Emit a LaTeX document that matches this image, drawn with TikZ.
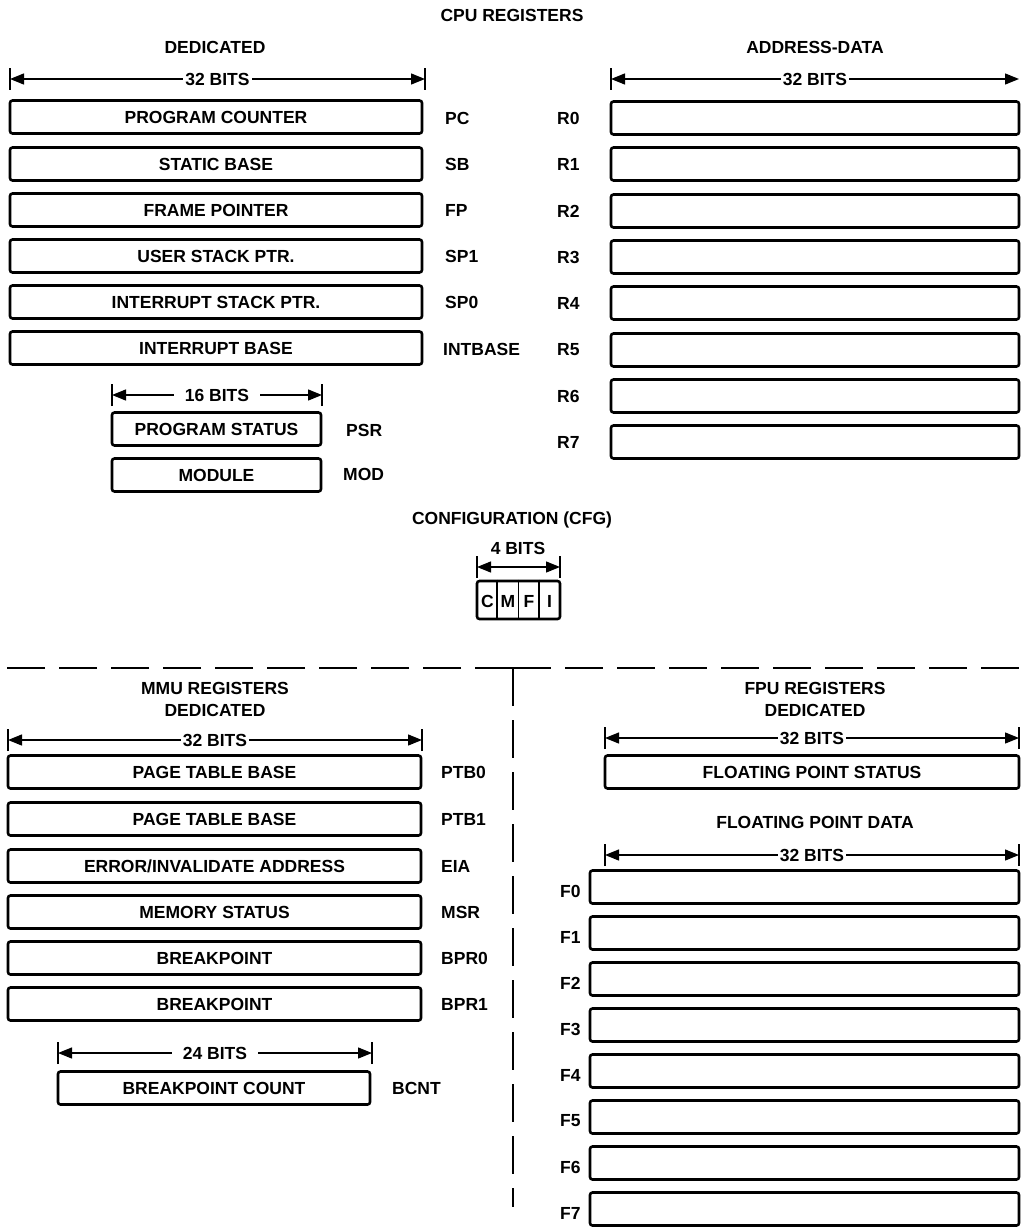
\documentclass[tikz,border=0pt]{standalone}
\usepackage{fontspec}
\setmainfont{Liberation Sans}
\usetikzlibrary{arrows.meta}
\newcommand\Reg[5]{\node[reg, minimum width={#3-#2}] (#1) at ({(#2+#3)/2},#4) {#5};}
\newcommand\Dim[6]{%
  \coordinate (#1a) at (#2,#4); \coordinate (#1b) at (#3,#4);
  \draw[dimline] (#1a) -- (#1b) node[midway, dimtxt, inner xsep=#6] {#5};
  \draw[dimbar] ([yshift=-11pt]#1a) -- ([yshift=11pt]#1a);
  \draw[dimbar] ([yshift=-11pt]#1b) -- ([yshift=11pt]#1b);}
\begin{document}
\begin{tikzpicture}[x=1pt,y=-1pt,
  every node/.style={font=\fontsize{17.5}{19}\selectfont\bfseries, inner sep=0pt},
  reg/.style={draw, line width=2.6pt, rounded corners=2.5pt, minimum height=33pt},
  lbl/.style={anchor=west},
  dimline/.style={line width=1.3pt, {Triangle[length=14pt,width=11pt]}-{Triangle[length=14pt,width=11pt]}},
  dimbar/.style={line width=1.8pt},
  dimtxt/.style={fill=white, inner ysep=2pt},
  sep/.style={line width=2pt, dash pattern=on 38pt off 14pt}
]
\useasboundingbox (0,0) rectangle (1021,1228);

% ---------- CPU ----------
\node (cputitle) at (512,15) {CPU REGISTERS};
\node (cpuded) at (215,47) {DEDICATED};
\node (cpuad) at (815,47) {ADDRESS-DATA};

\Dim{dA}{10}{425}{79}{32 BITS}{2pt}
\coordinate (dBa) at (611,79); \coordinate (dBb) at (1019,79);
\draw[dimline] (dBa) -- (dBb) node[midway, dimtxt, inner xsep=2pt] {32 BITS};
\draw[dimbar] ([yshift=-11pt]dBa) -- ([yshift=11pt]dBa);

\Reg{pc}{10}{422}{117}{PROGRAM COUNTER}
\Reg{sb}{10}{422}{164}{STATIC BASE}
\Reg{fp}{10}{422}{210}{FRAME POINTER}
\Reg{usp}{10}{422}{256}{USER STACK PTR.}
\Reg{isp}{10}{422}{302}{INTERRUPT STACK PTR.}
\Reg{ib}{10}{422}{348}{INTERRUPT BASE}
\node[lbl] (lpc) at (445,118) {PC};
\node[lbl] (lsb) at (445,164) {SB};
\node[lbl] (lfp) at (445,210) {FP};
\node[lbl] (lsp1) at (445,256) {SP1};
\node[lbl] (lsp0) at (445,302) {SP0};
\node[lbl] (lib) at (443,349) {INTBASE};

\foreach \i/\y in {0/118,1/164,2/211,3/257,4/303,5/350,6/396,7/442}{
  \Reg{r\i}{611}{1019}{\y}{}
  \node[lbl] (lr\i) at (557,\y) {R\i};
}

\Dim{dC}{112}{322}{395}{16 BITS}{11pt}
\Reg{psr}{112}{321}{429}{PROGRAM STATUS}
\Reg{mod}{112}{321}{475}{MODULE}
\node[lbl] (lpsr) at (346,430) {PSR};
\node[lbl] (lmod) at (343,474) {MOD};

% ---------- CFG ----------
\node (cfgtitle) at (512,520) {CONFIGURATION (CFG)};
\node (cfgbits) at (518,548) {4 BITS};
\coordinate (dDa) at (477,567); \coordinate (dDb) at (560,567);
\draw[dimline] (dDa) -- (dDb);
\draw[dimbar] ([yshift=-11pt]dDa) -- ([yshift=11pt]dDa);
\draw[dimbar] ([yshift=-11pt]dDb) -- ([yshift=11pt]dDb);
\node[reg, minimum width=83, minimum height=38] (cfg) at (518.5,600) {};
\draw[line width=1.8pt] ([xshift=-21.5pt]cfg.north) -- ([xshift=-21.5pt]cfg.south);
\draw[line width=1.8pt] (cfg.north) -- (cfg.south);
\draw[line width=1.8pt] ([xshift=20.5pt]cfg.north) -- ([xshift=20.5pt]cfg.south);
\node (cC) at (487.5,601) {C};
\node (cM) at (508,601) {M};
\node (cF) at (529,601) {F};
\node (cI) at (549.5,601) {I};

% ---------- separators ----------
\coordinate (corner) at (513,668);
\coordinate (sepL) at (0,668);
\coordinate (sepR) at (1021,668);
\coordinate (sepB) at (513,1207);
\draw[sep] (corner) -- (sepL);
\draw[sep] (corner) -- (sepR);
\draw[sep] (corner) -- (sepB);

% ---------- MMU ----------
\node (mmut) at (215,688) {MMU REGISTERS};
\node (mmud) at (215,710) {DEDICATED};
\Dim{dE}{8}{422}{740}{32 BITS}{2pt}
\Reg{ptb0}{8}{421}{772}{PAGE TABLE BASE}
\Reg{ptb1}{8}{421}{819}{PAGE TABLE BASE}
\Reg{eia}{8}{421}{866}{ERROR/INVALIDATE ADDRESS}
\Reg{msr}{8}{421}{912}{MEMORY STATUS}
\Reg{bpr0}{8}{421}{958}{BREAKPOINT}
\Reg{bpr1}{8}{421}{1004}{BREAKPOINT}
\node[lbl] (lptb0) at (441,772) {PTB0};
\node[lbl] (lptb1) at (441,819) {PTB1};
\node[lbl] (leia) at (441,866) {EIA};
\node[lbl] (lmsr) at (441,912) {MSR};
\node[lbl] (lbpr0) at (441,958) {BPR0};
\node[lbl] (lbpr1) at (441,1004) {BPR1};
\Dim{dF}{58}{372}{1053}{24 BITS}{11pt}
\Reg{bcnt}{58}{370}{1088}{BREAKPOINT COUNT}
\node[lbl] (lbcnt) at (392,1088) {BCNT};

% ---------- FPU ----------
\node (fput) at (815,688) {FPU REGISTERS};
\node (fpud) at (815,710) {DEDICATED};
\Dim{dG}{605}{1019}{738}{32 BITS}{2pt}
\Reg{fps}{605}{1019}{772}{FLOATING POINT STATUS}
\node (fpdata) at (815,822) {FLOATING POINT DATA};
\Dim{dH}{605}{1019}{855}{32 BITS}{2pt}
\foreach \i in {0,...,7}{
  \pgfmathsetmacro\yc{887+46*\i}
  \Reg{f\i}{590}{1019}{\yc}{}
  \node[lbl] (lf\i) at (560,\yc+4) {F\i};
}
\end{tikzpicture}
\end{document}
